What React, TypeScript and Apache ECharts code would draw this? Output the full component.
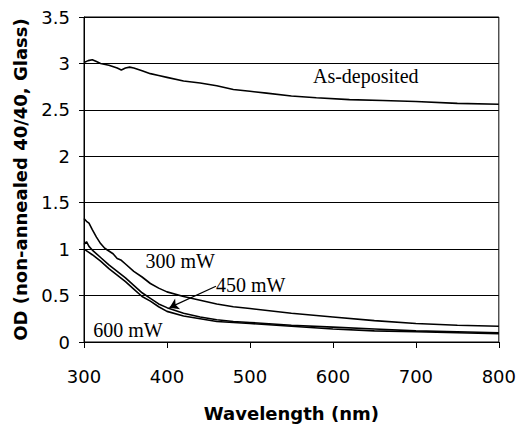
import React, { useEffect, useRef } from "react";
import * as echarts from "echarts";

const asDepX = [300, 305, 310, 315, 320, 330, 340, 345, 350, 355, 360, 370, 380, 390, 400, 420, 440, 460, 480, 500, 520, 550, 580, 620, 660, 700, 750, 800];
const asDepY = [3.01, 3.03, 3.04, 3.02, 3.0, 2.98, 2.95, 2.93, 2.95, 2.96, 2.95, 2.92, 2.89, 2.87, 2.85, 2.81, 2.79, 2.76, 2.72, 2.7, 2.68, 2.65, 2.63, 2.61, 2.6, 2.59, 2.57, 2.56];

const mw300X = [300, 303, 306, 310, 315, 320, 325, 330, 335, 340, 345, 350, 360, 370, 380, 390, 400, 420, 440, 460, 480, 500, 550, 600, 650, 700, 750, 800];
const mw300Y = [1.33, 1.3, 1.28, 1.21, 1.13, 1.06, 1.01, 0.98, 0.95, 0.9, 0.88, 0.84, 0.76, 0.7, 0.63, 0.58, 0.54, 0.49, 0.45, 0.41, 0.38, 0.36, 0.31, 0.27, 0.23, 0.2, 0.18, 0.17];

const mw450X = [300, 303, 306, 310, 320, 330, 340, 350, 360, 370, 380, 390, 400, 420, 440, 460, 480, 500, 550, 600, 650, 700, 750, 800];
const mw450Y = [1.05, 1.08, 1.03, 0.99, 0.91, 0.83, 0.76, 0.69, 0.61, 0.53, 0.47, 0.41, 0.37, 0.31, 0.27, 0.24, 0.22, 0.21, 0.18, 0.16, 0.14, 0.12, 0.11, 0.1];

const mw600X = [300, 305, 310, 320, 330, 340, 350, 360, 370, 380, 390, 400, 420, 440, 460, 480, 500, 550, 600, 650, 700, 750, 800];
const mw600Y = [1.0, 0.97, 0.94, 0.87, 0.79, 0.72, 0.65, 0.57, 0.49, 0.44, 0.38, 0.33, 0.28, 0.25, 0.22, 0.21, 0.2, 0.17, 0.14, 0.12, 0.11, 0.1, 0.09];

const labelTexts = ["As-deposited", "300 mW", "450 mW", "600 mW"];
const labelX = [576, 374, 459, 311];
const labelY = [2.87, 0.87, 0.615, 0.127];

const arrowFrom = [459, 0.6];
const arrowTo = [403, 0.37];

const zip = (xs: number[], ys: number[]) => xs.map((x, i) => [x, ys[i]]);

export default function App() {
  const ref = useRef<HTMLDivElement>(null);
  useEffect(() => {
    if (!ref.current) return;
    const chart = echarts.init(ref.current, undefined, { renderer: "svg" });
    const lineStyle = { color: "#000", width: 1.6 };
    const base = {
      type: "line",
      showSymbol: false,
      symbol: "none",
      lineStyle,
      silent: true,
    };
    chart.setOption({
      animation: false,
      grid: { left: 84, right: 17, top: 17, bottom: 80, show: true, borderColor: "#000", borderWidth: 1 },
      xAxis: {
        type: "value",
        min: 300,
        max: 800,
        interval: 100,
        name: "Wavelength (nm)",
        nameLocation: "middle",
        nameGap: 62,
        nameTextStyle: { fontFamily: "DejaVu Sans", fontWeight: "bold", fontSize: 18, color: "#000" },
        axisLine: { show: true, lineStyle: { color: "#000" } },
        axisTick: { show: true, length: 6, lineStyle: { color: "#000" } },
        axisLabel: { color: "#000", fontFamily: "DejaVu Sans", fontSize: 18, margin: 25 },
        splitLine: { show: false },
      },
      yAxis: {
        type: "value",
        min: 0,
        max: 3.5,
        interval: 0.5,
        name: "OD (non-annealed 40/40, Glass)",
        nameLocation: "middle",
        nameGap: 55,
        nameTextStyle: { fontFamily: "DejaVu Sans", fontWeight: "bold", fontSize: 18, color: "#000" },
        axisLine: { show: true, lineStyle: { color: "#000" } },
        axisTick: { show: true, length: 5, lineStyle: { color: "#000" } },
        axisLabel: { color: "#000", fontFamily: "DejaVu Sans", fontSize: 18, margin: 14 },
        splitLine: { show: true, lineStyle: { color: "#000", width: 1 } },
      },
      series: [
        { ...base, name: "As-deposited", data: zip(asDepX, asDepY) },
        { ...base, name: "300 mW", data: zip(mw300X, mw300Y) },
        {
          ...base,
          name: "450 mW",
          data: zip(mw450X, mw450Y),
          markLine: {
            silent: true,
            symbol: ["none", "arrow"],
            symbolSize: 9,
            label: { show: false },
            lineStyle: { color: "#000", width: 1.2, type: "solid" },
            data: [[{ coord: arrowFrom }, { coord: arrowTo }]],
          },
        },
        { ...base, name: "600 mW", data: zip(mw600X, mw600Y) },
      ],
    });
    const graphics = labelTexts.map((t, i) => {
      const p = chart.convertToPixel({ gridIndex: 0 }, [labelX[i], labelY[i]]) as number[];
      return {
        type: "text",
        x: p[0],
        y: p[1],
        silent: true,
        style: {
          text: t,
          fill: "#000",
          fontFamily: "Liberation Serif",
          fontSize: 20,
          textAlign: "left",
          textVerticalAlign: "middle",
        },
      };
    });
    chart.setOption({ graphic: graphics });
    return () => chart.dispose();
  }, []);
  return <div ref={ref} style={{ position: "absolute", left: 0, top: 0, width: 519, height: 427 }} />;
}
